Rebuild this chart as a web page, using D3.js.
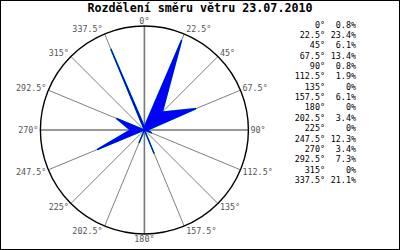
<!DOCTYPE html>
<html>
<head>
<meta charset="utf-8">
<script src="https://cdn.jsdelivr.net/npm/d3@7"></script>
<style>
  body { margin: 0; background: #fff; }
  svg { display: block; }
  text { font-family: "DejaVu Sans Mono", "Liberation Mono", monospace; }
</style>
</head>
<body>
<svg id="chart" width="400" height="250"></svg>
<script>
// Wind direction data (degrees) and share of time (%)
var directions = [0, 22.5, 45, 67.5, 90, 112.5, 135, 157.5, 180, 202.5, 225, 247.5, 270, 292.5, 315, 337.5];
var dirLabels = ["0°", "22.5°", "45°", "67.5°", "90°", "112.5°", "135°", "157.5°", "180°", "202.5°", "225°", "247.5°", "270°", "292.5°", "315°", "337.5°"];
var shares = [0.8, 23.4, 6.1, 13.4, 0.8, 1.9, 0, 6.1, 0, 3.4, 0, 12.3, 3.4, 7.3, 0, 21.1];
var title = "Rozdělení směru větru 23.07.2010";

var width = 400, height = 250;
var cx = 144.4, cy = 130, R = 104;

var svg = d3.select("#chart");

// frame
svg.append("rect")
    .attr("x", 0.5).attr("y", 0.5)
    .attr("width", width - 1).attr("height", height - 1)
    .style("fill", "#fff").style("stroke", "#000");

svg.append("text")
    .attr("x", 200).attr("y", 12)
    .attr("text-anchor", "middle")
    .style("font-size", "11.7px").style("font-weight", "bold")
    .text(title);

var r = d3.scaleLinear().domain([0, 25]).range([0, R]);
var rad = function (deg) { return deg * Math.PI / 180; };

var g = svg.append("g").attr("transform", "translate(" + cx + "," + cy + ")");

// spokes
g.selectAll(".spoke")
    .data(directions)
    .enter().append("line")
    .attr("class", "spoke")
    .attr("x1", 0).attr("y1", 0)
    .attr("x2", function (d) { return R * Math.sin(rad(d)); })
    .attr("y2", function (d) { return -R * Math.cos(rad(d)); })
    .style("stroke", function (d) { return d % 90 === 0 ? "#777" : "#808080"; })
    .style("stroke-width", function (d) { return d % 90 === 0 ? 1.6 : 1; });

// rose polygon (thin green edge under a blue fill)
var rose = d3.lineRadial()
    .angle(function (d, i) { return rad(directions[i]); })
    .radius(function (d) { return r(d); })
    .curve(d3.curveLinearClosed);

g.append("path")
    .attr("d", rose(shares))
    .style("fill", "none")
    .style("stroke", "#00ff00")
    .style("stroke-width", 1.6);
g.append("path")
    .attr("d", rose(shares))
    .style("fill", "#0000ff")
    .style("stroke", "#0000ff")
    .style("stroke-width", 1.2);

// outer circle
g.append("circle")
    .attr("r", R)
    .style("fill", "none")
    .style("stroke", "#000")
    .style("stroke-width", 1.4);

// direction labels round the circle
g.selectAll(".dir-label")
    .data(directions)
    .enter().append("text")
    .attr("class", "dir-label")
    .attr("x", function (d) {
        var s = Math.sin(rad(d));
        if (Math.abs(s) < 1e-6) return 0;
        return R * s + (s > 0 ? 2 : -2);
    })
    .attr("y", function (d) { return -(R + 5) * Math.cos(rad(d)); })
    .attr("dy", "0.35em")
    .attr("text-anchor", function (d) {
        var s = Math.sin(rad(d));
        if (Math.abs(s) < 1e-6) return "middle";
        return s > 0 ? "start" : "end";
    })
    .style("font-size", "8.4px")
    .style("fill", "#555")
    .text(function (d, i) { return dirLabels[i]; });

// legend table
var legend = svg.append("g").attr("class", "legend");
var rowY = d3.scaleLinear().domain([0, directions.length - 1]).range([27.5, 183]);

legend.selectAll(".leg-dir")
    .data(dirLabels)
    .enter().append("text")
    .attr("x", 325).attr("y", function (d, i) { return rowY(i); })
    .attr("text-anchor", "end")
    .style("font-size", "8.4px")
    .text(function (d) { return d; });

legend.selectAll(".leg-val")
    .data(shares)
    .enter().append("text")
    .attr("x", 356).attr("y", function (d, i) { return rowY(i); })
    .attr("text-anchor", "end")
    .style("font-size", "8.4px")
    .text(function (d) { return d === 0 ? "0%" : d.toFixed(1) + "%"; });
</script>
</body>
</html>
